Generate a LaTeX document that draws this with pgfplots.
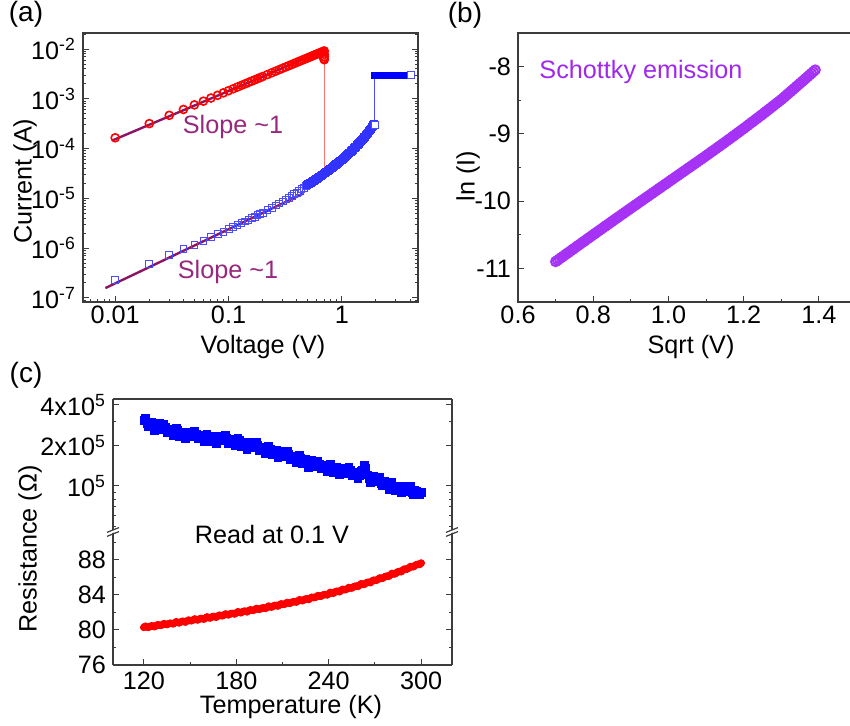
\documentclass[border=0pt]{standalone}
\usepackage{fontspec}
\setmainfont{Liberation Sans}
\usepackage{pgfplots}
\usepackage{pgfplotstable}
\pgfplotsset{compat=1.18}
\definecolor{fitcol}{RGB}{140,20,100}
\definecolor{slopecol}{RGB}{150,40,125}
\definecolor{violetA}{RGB}{165,50,245}
\definecolor{violetT}{RGB}{160,40,235}
\definecolor{spine}{RGB}{60,60,60}

\pgfplotstableread{
s lnI
0.700 -10.900
0.705 -10.880
0.710 -10.860
0.715 -10.840
0.720 -10.820
0.725 -10.800
0.730 -10.780
0.735 -10.760
0.740 -10.740
0.745 -10.720
0.750 -10.700
0.755 -10.680
0.760 -10.660
0.765 -10.640
0.770 -10.620
0.775 -10.600
0.780 -10.580
0.785 -10.560
0.790 -10.540
0.795 -10.520
0.800 -10.500
0.805 -10.480
0.810 -10.460
0.815 -10.441
0.820 -10.421
0.825 -10.401
0.830 -10.381
0.835 -10.361
0.840 -10.342
0.845 -10.322
0.850 -10.302
0.855 -10.282
0.860 -10.263
0.865 -10.243
0.870 -10.223
0.875 -10.204
0.880 -10.184
0.885 -10.164
0.890 -10.145
0.895 -10.125
0.900 -10.105
0.905 -10.086
0.910 -10.066
0.915 -10.047
0.920 -10.027
0.925 -10.008
0.930 -9.988
0.935 -9.969
0.940 -9.949
0.945 -9.930
0.950 -9.910
0.955 -9.891
0.960 -9.871
0.965 -9.852
0.970 -9.832
0.975 -9.813
0.980 -9.793
0.985 -9.774
0.990 -9.754
0.995 -9.735
1.000 -9.715
1.005 -9.696
1.010 -9.676
1.015 -9.657
1.020 -9.637
1.025 -9.618
1.030 -9.598
1.035 -9.579
1.040 -9.559
1.045 -9.540
1.050 -9.520
1.055 -9.501
1.060 -9.481
1.065 -9.462
1.070 -9.442
1.075 -9.423
1.080 -9.403
1.085 -9.384
1.090 -9.364
1.095 -9.345
1.100 -9.325
1.105 -9.305
1.110 -9.285
1.115 -9.265
1.120 -9.245
1.125 -9.225
1.130 -9.205
1.135 -9.185
1.140 -9.165
1.145 -9.145
1.150 -9.125
1.155 -9.105
1.160 -9.084
1.165 -9.064
1.170 -9.043
1.175 -9.023
1.180 -9.002
1.185 -8.982
1.190 -8.961
1.195 -8.941
1.200 -8.920
1.205 -8.899
1.210 -8.878
1.215 -8.856
1.220 -8.835
1.225 -8.814
1.230 -8.793
1.235 -8.772
1.240 -8.750
1.245 -8.729
1.250 -8.708
1.255 -8.686
1.260 -8.664
1.265 -8.643
1.270 -8.621
1.275 -8.599
1.280 -8.577
1.285 -8.555
1.290 -8.534
1.295 -8.512
1.300 -8.490
1.305 -8.466
1.310 -8.442
1.315 -8.417
1.320 -8.393
1.325 -8.369
1.330 -8.345
1.335 -8.321
1.340 -8.296
1.345 -8.272
1.350 -8.248
1.355 -8.223
1.360 -8.199
1.365 -8.174
1.370 -8.149
1.375 -8.124
1.380 -8.100
1.385 -8.075
1.390 -8.050
}\schottky

\pgfplotstableread{
T R
120 3.08e5
121 3.19e5
122 2.90e5
123 2.76e5
124 2.99e5
125 2.97e5
126 2.76e5
127 2.60e5
128 2.88e5
129 2.91e5
130 2.93e5
131 2.64e5
132 2.62e5
133 2.89e5
134 2.74e5
135 2.49e5
136 2.52e5
137 2.63e5
138 2.64e5
139 2.36e5
140 2.45e5
141 2.68e5
142 2.58e5
143 2.33e5
144 2.40e5
145 2.53e5
146 2.53e5
147 2.24e5
148 2.36e5
149 2.53e5
150 2.48e5
151 2.32e5
152 2.31e5
153 2.56e5
154 2.43e5
155 2.23e5
156 2.27e5
157 2.37e5
158 2.39e5
159 2.14e5
160 2.23e5
161 2.44e5
162 2.35e5
163 2.14e5
164 2.21e5
165 2.33e5
166 2.33e5
167 2.07e5
168 2.19e5
169 2.36e5
170 2.30e5
171 2.16e5
172 2.16e5
173 2.39e5
174 2.27e5
175 2.08e5
176 2.12e5
177 2.21e5
178 2.23e5
179 2.00e5
180 2.08e5
181 2.27e5
182 2.17e5
183 1.97e5
184 2.03e5
185 2.13e5
186 2.11e5
187 1.87e5
188 1.97e5
189 2.11e5
190 2.06e5
191 1.92e5
192 1.92e5
193 2.11e5
194 2.00e5
195 1.83e5
196 1.86e5
197 1.94e5
198 1.94e5
199 1.74e5
200 1.81e5
201 1.97e5
202 1.89e5
203 1.71e5
204 1.75e5
205 1.84e5
206 1.83e5
207 1.62e5
208 1.70e5
209 1.82e5
210 1.77e5
211 1.65e5
212 1.65e5
213 1.81e5
214 1.72e5
215 1.57e5
216 1.59e5
217 1.66e5
218 1.66e5
219 1.49e5
220 1.54e5
221 1.68e5
222 1.61e5
223 1.46e5
224 1.49e5
225 1.57e5
226 1.56e5
227 1.38e5
228 1.45e5
229 1.55e5
230 1.50e5
231 1.41e5
232 1.40e5
233 1.54e5
234 1.46e5
235 1.34e5
236 1.36e5
237 1.42e5
238 1.42e5
239 1.28e5
240 1.33e5
241 1.45e5
242 1.39e5
243 1.26e5
244 1.30e5
245 1.37e5
246 1.36e5
247 1.21e5
248 1.27e5
249 1.36e5
250 1.33e5
251 1.24e5
252 1.24e5
253 1.37e5
254 1.30e5
255 1.19e5
256 1.21e5
257 1.26e5
258 1.27e5
259 1.14e5
260 1.19e5
261 1.29e5
262 1.30e5
263 1.43e5
264 1.36e5
265 1.21e5
266 1.14e5
267 1.06e5
268 1.18e5
269 1.19e5
270 1.09e5
271 1.08e5
272 1.13e5
273 1.17e5
274 1.04e5
275 1.01e5
276 1.08e5
277 1.06e5
278 1.00e5
279 0.94e5
280 1.03e5
281 1.06e5
282 0.96e5
283 0.93e5
284 1.00e5
285 1.00e5
286 0.94e5
287 0.89e5
288 0.98e5
289 1.00e5
290 0.92e5
291 0.91e5
292 0.95e5
293 1.00e5
294 0.90e5
295 0.87e5
296 0.93e5
297 0.92e5
298 0.88e5
299 0.86e5
300 0.90e5
}\hrsT

\pgfplotstableread{
T R
120 80.30
121 80.43
122 80.35
123 80.30
124 80.40
125 80.47
126 80.45
127 80.38
128 80.50
129 80.60
130 80.55
131 80.53
132 80.60
133 80.72
134 80.66
135 80.62
136 80.71
137 80.77
138 80.76
139 80.70
140 80.81
141 80.94
142 80.86
143 80.81
144 80.92
145 80.99
146 80.97
147 80.90
148 81.03
149 81.13
150 81.08
151 81.06
152 81.14
153 81.26
154 81.19
155 81.15
156 81.25
157 81.31
158 81.30
159 81.24
160 81.36
161 81.49
162 81.42
163 81.37
164 81.48
165 81.55
166 81.53
167 81.46
168 81.59
169 81.69
170 81.65
171 81.63
172 81.71
173 81.83
174 81.77
175 81.73
176 81.83
177 81.89
178 81.89
179 81.83
180 81.95
181 82.08
182 82.01
183 81.97
184 82.08
185 82.15
186 82.14
187 82.07
188 82.20
189 82.30
190 82.26
191 82.25
192 82.33
193 82.45
194 82.39
195 82.36
196 82.46
197 82.52
198 82.52
199 82.47
200 82.59
201 82.73
202 82.66
203 82.62
204 82.73
205 82.81
206 82.80
207 82.74
208 82.87
209 82.98
210 82.94
211 82.93
212 83.01
213 83.14
214 83.09
215 83.06
216 83.16
217 83.23
218 83.24
219 83.19
220 83.31
221 83.45
222 83.39
223 83.35
224 83.47
225 83.55
226 83.55
227 83.49
228 83.63
229 83.74
230 83.71
231 83.71
232 83.80
233 83.93
234 83.88
235 83.86
236 83.97
237 84.04
238 84.05
239 84.01
240 84.14
241 84.29
242 84.23
243 84.20
244 84.33
245 84.42
246 84.42
247 84.37
248 84.52
249 84.64
250 84.61
251 84.61
252 84.71
253 84.85
254 84.81
255 84.80
256 84.92
257 85.00
258 85.02
259 84.98
260 85.12
261 85.28
262 85.23
263 85.21
264 85.34
265 85.44
266 85.45
267 85.41
268 85.56
269 85.69
270 85.67
271 85.68
272 85.79
273 85.94
274 85.91
275 85.91
276 86.04
277 86.13
278 86.16
279 86.14
280 86.29
281 86.46
282 86.42
283 86.41
284 86.55
285 86.66
286 86.69
287 86.66
288 86.82
289 86.96
290 86.95
291 86.97
292 87.09
293 87.25
294 87.23
295 87.23
296 87.37
297 87.47
298 87.51
299 87.49
300 87.65
}\lrsT

\pgfplotsset{
  every axis/.append style={
    scale only axis,
    font=\fontsize{12.6}{15}\selectfont,
    axis line style={spine, line width=0.6pt},
    every tick/.style={spine, line width=0.5pt},
    major tick length=3pt,
    minor tick length=1.6pt,
    /pgf/number format/assume math mode=true,
    tick align=inside,
  }
}

\begin{document}
\begin{tikzpicture}
\useasboundingbox (0,0) rectangle (425pt,363pt);

% ---------------- panel (a) ----------------
\begin{axis}[
  at={(41.5pt,346.5pt)}, anchor=north west,
  width=167.5pt, height=134.5pt,
  xmode=log, ymode=log,
  xmin=0.0052, xmax=4.7, ymin=8.3e-8, ymax=0.021,
  xtick={0.01,0.1,1}, xticklabels={0.01,0.1,1},
  xticklabel style={yshift=1.5pt},
  minor xtick={0.006,0.007,0.008,0.009,0.02,0.03,0.04,0.05,0.06,0.07,0.08,0.09,0.2,0.3,0.4,0.5,0.6,0.7,0.8,0.9,2,3,4},
  ytick={1e-7,1e-6,1e-5,1e-4,1e-3,1e-2},
  yticklabels={10\textsuperscript{-7},10\textsuperscript{-6},10\textsuperscript{-5},10\textsuperscript{-4},10\textsuperscript{-3},10\textsuperscript{-2}},
  minor ytick={9e-8,2e-7,3e-7,4e-7,5e-7,6e-7,7e-7,8e-7,9e-7,2e-6,3e-6,4e-6,5e-6,6e-6,7e-6,8e-6,9e-6,2e-5,3e-5,4e-5,5e-5,6e-5,7e-5,8e-5,9e-5,2e-4,3e-4,4e-4,5e-4,6e-4,7e-4,8e-4,9e-4,2e-3,3e-3,4e-3,5e-3,6e-3,7e-3,8e-3,9e-3,2e-2},
  xtick pos=left, ytick pos=both,
  clip=false,
]
% reset transition (thin red) and set transition (thin blue)
\addplot[red!55, line width=0.4pt] coordinates {(0.70,6.2e-3) (0.70,3.5e-5)};
\addplot[blue!70, line width=0.5pt] coordinates {(1.95,3.04e-4) (1.95,3.0e-3)};
% HRS low voltage
\addplot[only marks, mark=square, mark size=1.7pt, blue!70, line width=0.4pt] coordinates {
(0.01,2.3e-7)(0.02,4.8e-7)(0.03,7.2e-7)(0.04,9.5e-7)(0.05,1.18e-6)(0.06,1.42e-6)
(0.07,1.66e-6)(0.08,1.90e-6)(0.09,2.15e-6)(0.10,2.40e-6)(0.11,2.65e-6)(0.12,2.90e-6)(0.13,3.17e-6)(0.14,3.45e-6)
(0.15,3.72e-6)(0.16,4.00e-6)(0.17,4.30e-6)(0.18,4.60e-6)(0.19,4.90e-6)(0.20,5.20e-6)(0.22,5.85e-6)(0.24,6.50e-6)(0.26,7.20e-6)
(0.28,7.95e-6)(0.30,8.70e-6)(0.32,9.50e-6)(0.34,1.03e-5)(0.36,1.12e-5)(0.38,1.21e-5)
(0.40,1.31e-5)(0.42,1.42e-5)(0.44,1.53e-5)(0.46,1.65e-5)(0.48,1.78e-5)};
% HRS high voltage (same data as panel b)
\addplot[only marks, mark=square, mark size=1.7pt, blue!80, line width=0.4pt]
  table[x expr={\thisrow{s}*\thisrow{s}}, y expr={exp(\thisrow{lnI})}] {\schottky};
% compliance
\addplot[only marks, mark=square*, mark size=1.5pt, blue] coordinates {
(1.95,3e-3)(2.0,3e-3)(2.1,3e-3)(2.2,3e-3)(2.3,3e-3)(2.4,3e-3)(2.5,3e-3)(2.6,3e-3)
(2.7,3e-3)(2.8,3e-3)(2.9,3e-3)(3.0,3e-3)(3.1,3e-3)(3.2,3e-3)(3.3,3e-3)(3.4,3e-3)
(3.5,3e-3)(3.6,3e-3)(3.7,3e-3)(3.8,3e-3)(3.9,3e-3)(4.0,3e-3)};
\addplot[only marks, mark=square*, mark size=1.7pt, draw=blue!70, fill=white, line width=0.4pt] coordinates {(1.95,3.04e-4)(4.1,3e-3)};
% LRS
\addplot[only marks, mark=o, mark size=2pt, red, line width=0.8pt] coordinates {
(0.01,1.650e-4)(0.02,3.177e-4)(0.03,4.660e-4)(0.04,6.114e-4)(0.05,7.551e-4)(0.06,8.973e-4)
(0.07,1.038e-3)(0.08,1.177e-3)(0.09,1.316e-3)(0.10,1.454e-3)(0.11,1.591e-3)(0.12,1.727e-3)(0.13,1.863e-3)(0.14,1.998e-3)
(0.15,2.133e-3)(0.16,2.267e-3)(0.17,2.400e-3)(0.18,2.533e-3)(0.19,2.666e-3)(0.20,2.799e-3)(0.22,3.062e-3)(0.24,3.324e-3)(0.26,3.585e-3)
(0.28,3.845e-3)(0.30,4.105e-3)(0.32,4.363e-3)(0.34,4.620e-3)(0.36,4.876e-3)(0.38,5.131e-3)
(0.40,5.385e-3)(0.42,5.640e-3)(0.44,5.894e-3)(0.46,6.146e-3)(0.48,6.399e-3)(0.50,6.652e-3)
(0.52,6.903e-3)(0.54,7.154e-3)(0.56,7.404e-3)(0.58,7.653e-3)(0.60,7.904e-3)(0.62,8.152e-3)
(0.64,8.399e-3)(0.66,8.650e-3)(0.68,8.896e-3)(0.70,9.143e-3)
(0.70,7.8e-3)(0.70,7.0e-3)(0.695,6.4e-3)(0.70,6.1e-3)};
% fits
\addplot[fitcol, line width=1.2pt] coordinates {(0.0094,1.45e-4) (0.69,9.3e-3)};
\addplot[fitcol, line width=1.2pt] coordinates {(0.0082,1.58e-7) (0.46,1.26e-5)};
\end{axis}

% ---------------- panel (b) ----------------
\begin{axis}[
  at={(259pt,346.5pt)}, anchor=north west,
  width=166.85pt, height=134.5pt,
  xmin=0.6, xmax=1.487, ymin=-11.5, ymax=-7.5,
  xtick={0.6,0.8,1.0,1.2,1.4}, xticklabels={0.6,0.8,1.0,1.2,1.4},
  xticklabel style={yshift=1.5pt},
  minor xtick={0.7,0.9,1.1,1.3},
  ytick={-11,-10,-9,-8}, yticklabels={-11,-10,-9,-8},
  minor ytick={-10.5,-9.5,-8.5},
  xtick pos=left, ytick pos=left,
]
\addplot[only marks, mark=o, mark size=2.3pt, violetA, line width=1pt] table[x=s, y=lnI] {\schottky};
\end{axis}

% ---------------- panel (c) upper ----------------
\begin{axis}[
  at={(56.5pt,163.5pt)}, anchor=north west,
  width=169.5pt, height=66.5pt,
  xmin=100, xmax=320, ymode=log, ymin=4.55e4, ymax=4.43e5,
  axis x line*=top, axis y line*=box, axis line style={-},
  xtick=\empty,
  ytick={1e5,2e5,4e5},
  yticklabels={10\textsuperscript{5},2x10\textsuperscript{5},4x10\textsuperscript{5}},
  minor ytick={5e4,6e4,7e4,8e4,9e4,3e5},
]
\addplot[only marks, mark=square*, mark size=1.9pt, blue] table[x=T, y=R] {\hrsT};
\end{axis}

% ---------------- panel (c) lower ----------------
\begin{axis}[
  at={(56.5pt,97pt)}, anchor=north west,
  width=169.5pt, height=66.5pt,
  xmin=100, xmax=320, ymin=76, ymax=91.2,
  axis x line*=bottom, axis y line*=box, axis line style={-},
  xtick={120,180,240,300}, minor xtick={150,210,270},
  ytick={76,80,84,88}, minor ytick={78,82,86,90},
]
\addplot[only marks, mark=*, mark size=1.7pt, red] table[x=T, y=R] {\lrsT};
\end{axis}

% break marks
\foreach \bx in {56.5pt,226pt}{
  \fill[white] (\bx-3pt,97pt-1.6pt) -- (\bx+3pt,97pt+0.8pt) -- (\bx+3pt,97pt+2.2pt) -- (\bx-3pt,97pt-0.2pt) -- cycle;
  \draw[spine, line width=0.6pt] (\bx-3pt,97pt-2.2pt) -- (\bx+3pt,97pt+0.2pt);
  \draw[spine, line width=0.6pt] (\bx-3pt,97pt-0.2pt) -- (\bx+3pt,97pt+2.2pt);
}

% labels
\begin{scope}[font=\fontsize{12.6}{15}\selectfont]
\node at (13pt,356pt) {\fontsize{14}{16}\selectfont (a)};
\node at (232.5pt,355.5pt) {\fontsize{14}{16}\selectfont (b)};
\node at (13pt,175.5pt) {\fontsize{14}{16}\selectfont (c)};
\node[rotate=90] at (12.5pt,272.5pt) {Current (A)};
\node at (131.5pt,189.5pt) {Voltage (V)};
\node[rotate=90] at (234pt,275pt) {ln (I)};
\node at (345.5pt,189.5pt) {Sqrt (V)};
\node at (145.5pt,9.5pt) {Temperature (K)};
\node[rotate=90] at (15pt,88.5pt) {Resistance (Ω)};
\node[text=slopecol] at (116.5pt,299.5pt) {Slope \textasciitilde1};
\node[text=slopecol] at (114pt,227pt) {Slope \textasciitilde1};
\node[text=violetT] at (320.5pt,327pt) {Schottky emission};
\node at (136pt,95.5pt) {Read at 0.1 V};
\end{scope}
\end{tikzpicture}
\end{document}
